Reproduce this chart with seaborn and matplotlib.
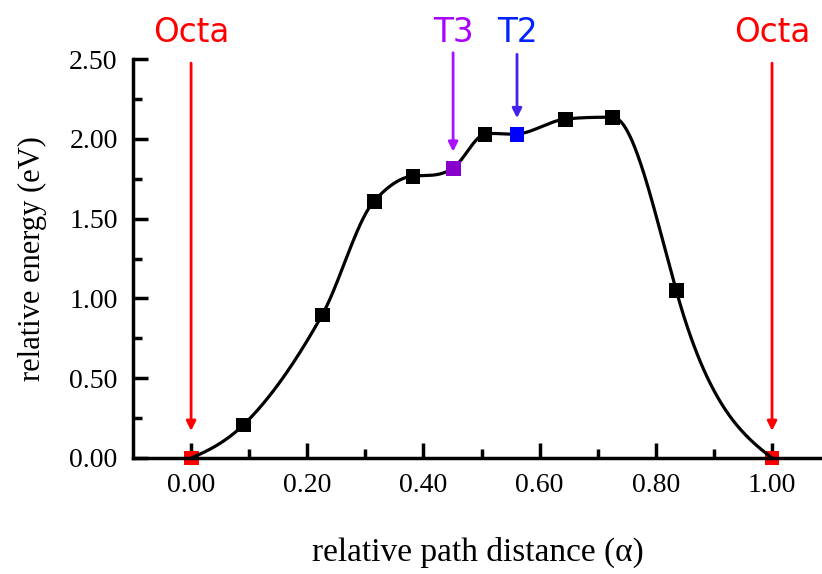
import numpy as np
import pandas as pd
import matplotlib.pyplot as plt
import seaborn as sns

# NEB images: path coordinate, energy and tangent slope
path_dist = [0.0, 0.09, 0.2255, 0.315, 0.382, 0.451, 0.506, 0.561, 0.644, 0.726, 0.835, 1.0]
energy = [0.0, 0.207, 0.896, 1.61, 1.767, 1.817, 2.03, 2.03, 2.124, 2.136, 1.05, 0.0]
slope = [1.5, 3.5, 6.5, 4.0, 0.3, 2.5, 0.6, 0.3, 0.4, 0.0, -13.0, -2.8]
point_kind = ["Octa", "img", "img", "img", "img", "T3", "img", "T2", "img", "img", "img", "Octa"]

site_labels = ["Octa", "T3", "T2", "Octa"]
site_x = [0.0, 0.451, 0.561, 1.0]
arrow_top = [2.475, 2.54, 2.53, 2.475]
arrow_tip = [0.17, 1.92, 2.13, 0.17]

x_ticks = [0.0, 0.2, 0.4, 0.6, 0.8, 1.0]
y_ticks = [0.0, 0.5, 1.0, 1.5, 2.0, 2.5]


def hermite_curve(x, y, m, n=60):
    xs, ys = [], []
    for i in range(len(x) - 1):
        t = np.linspace(0, 1, n)
        h = x[i + 1] - x[i]
        h00 = 2 * t**3 - 3 * t**2 + 1
        h10 = t**3 - 2 * t**2 + t
        h01 = -2 * t**3 + 3 * t**2
        h11 = t**3 - t**2
        xs.append(x[i] + t * h)
        ys.append(h00 * y[i] + h10 * h * m[i] + h01 * y[i + 1] + h11 * h * m[i + 1])
    return np.concatenate(xs), np.concatenate(ys)


sns.set_style("ticks")
plt.rcParams['font.family'] = ['Liberation Serif', 'DejaVu Serif']
plt.rcParams['text.color'] = 'black'
plt.rcParams['axes.labelcolor'] = 'black'
plt.rcParams['xtick.color'] = 'black'
plt.rcParams['ytick.color'] = 'black'

fig = plt.figure(figsize=(8.22, 5.74), dpi=100)
ax = fig.add_axes([0.1618, 0.2021, 1.0 - 0.1618, 0.897 - 0.2021])

cx, cy = hermite_curve(path_dist, energy, slope)
curve = pd.DataFrame({"x": cx, "y": cy})
sns.lineplot(data=curve, x="x", y="y", ax=ax, color="black", linewidth=2.3,
             sort=False, estimator=None, zorder=3)

df = pd.DataFrame({"x": path_dist, "y": energy, "kind": point_kind})
palette = {"Octa": "#ff0000", "img": "#000000", "T3": "#8800cc", "T2": "#0000ff"}
for kind, zo in [("Octa", 1.5), ("img", 4), ("T3", 4), ("T2", 4)]:
    sub = df[df["kind"] == kind]
    sns.scatterplot(data=sub, x="x", y="y", ax=ax, marker="s", s=115,
                    color=palette[kind], edgecolor="none", zorder=zo,
                    clip_on=False, legend=False)

text_colors = {"Octa": "#ff0000", "T3": "#aa00ff", "T2": "#0022ff"}
arrow_colors = {"Octa": "#ff0000", "T3": "#aa11ff", "T2": "#4422ee"}
for lab, sx, top, tip in zip(site_labels, site_x, arrow_top, arrow_tip):
    ax.annotate("", xy=(sx, tip), xytext=(sx, top), annotation_clip=False,
                arrowprops=dict(arrowstyle="-|>", color=arrow_colors[lab], lw=2,
                                mutation_scale=14, shrinkA=0, shrinkB=0))
    ax.text(sx, 2.61, lab, color=text_colors[lab], ha="center", va="baseline",
            fontsize=23.5, family=["DejaVu Sans"], clip_on=False)

ax.set_xlim(-0.1, 1.086)
ax.set_ylim(0, 2.5)
ax.set_xticks(x_ticks)
ax.set_xticklabels(["%.2f" % v for v in x_ticks])
ax.set_yticks(y_ticks)
ax.set_yticklabels(["%.2f" % v for v in y_ticks])
ax.set_xticks(np.array(x_ticks[:-1]) + 0.1, minor=True)
ax.set_yticks(np.array(y_ticks[:-1]) + 0.25, minor=True)
ax.tick_params(which="both", direction="in", width=2.5, labelsize=20,
               color="black", labelcolor="black")
ax.tick_params(which="major", length=10.5)
ax.tick_params(which="minor", length=6.5)
ax.tick_params(axis="x", pad=11)
ax.tick_params(axis="y", pad=11)

sns.despine(ax=ax)
for side in ["left", "bottom"]:
    ax.spines[side].set_linewidth(2.5)
    ax.spines[side].set_color("black")
    ax.spines[side].set_zorder(2)

ax.set_xlabel("relative path distance (α)", fontsize=24, labelpad=28, color="black")
ax.set_ylabel("relative energy (eV)", fontsize=22, labelpad=16, color="black")

fig.savefig("out.png", dpi=100)
plt.close(fig)
